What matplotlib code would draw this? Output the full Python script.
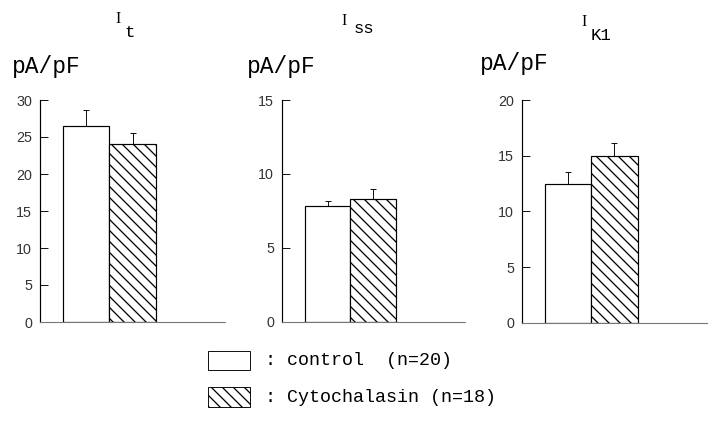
import matplotlib
matplotlib.use('Agg')
import matplotlib.pyplot as plt
from matplotlib.patches import Rectangle

# data (pA/pF, mean and upper error)
currents = ['t', 'ss', 'K1']
control_mean = [26.5, 7.8, 12.5]
control_err = [2.1, 0.4, 1.0]
cyto_mean = [24.0, 8.3, 15.0]
cyto_err = [1.6, 0.65, 1.1]
ymax = [30, 15, 20]
yticks = [[0, 5, 10, 15, 20, 25, 30], [0, 5, 10, 15], [0, 5, 10, 15, 20]]
legend_labels = [': control  (n=20)', ': Cytochalasin (n=18)']

W, H, DPI = 712, 426, 66
plt.rcParams['hatch.linewidth'] = 1.4
mono = 'Liberation Mono'


def fx(x):
    return x / W


def fy(y):
    return 1 - y / H


fig = plt.figure(figsize=(W / DPI, H / DPI), dpi=DPI)

# axes boxes in pixels: left, right, top, bottom
boxes = [(40, 225, 100, 322), (281.7, 465, 100, 321.7), (521.7, 707, 100, 322.7)]
# title / unit label positions in pixels
title_pos = [(115, 23, 124, 37), (341, 25, 354, 33), (581, 26, 591, 40)]
unit_pos = [(12, 73), (247, 73), (480, 70)]

for i in range(3):
    l, r, t, b = boxes[i]
    ax = fig.add_axes([fx(l), fy(b), (r - l) / W, (b - t) / H])
    ax.bar([1], [control_mean[i]], width=1, color='white', edgecolor='black',
           linewidth=1.3, zorder=2)
    ax.bar([2], [cyto_mean[i]], width=1, color='white', edgecolor='black',
           hatch='\\\\', linewidth=1.3, zorder=2)
    ax.errorbar([1, 2], [control_mean[i], cyto_mean[i]],
                yerr=[[0, 0], [control_err[i], cyto_err[i]]],
                fmt='none', ecolor='black', elinewidth=1.0, capsize=3.8,
                capthick=1.0, zorder=3)
    ax.set_xlim(0, 4)
    ax.set_ylim(0, ymax[i])
    ax.set_yticks(yticks[i])
    ax.set_xticks([])
    for s in ['top', 'right']:
        ax.spines[s].set_visible(False)
    ax.spines['left'].set_linewidth(1.3)
    ax.spines['bottom'].set_color('#777777')
    ax.spines['bottom'].set_linewidth(1.2)
    ax.tick_params(axis='y', direction='in', length=8.5, width=1.0, pad=8.5,
                   labelsize=15.5, labelcolor='#333333')
    for lab in ax.get_yticklabels():
        lab.set_family('Liberation Sans')
    ax.patch.set_alpha(0)

    x1, y1, x2, y2 = title_pos[i]
    fig.text(fx(x1), fy(y1), 'I', family='Liberation Serif', fontsize=17,
             va='baseline')
    fig.text(fx(x2), fy(y2), currents[i], family=mono, fontsize=19,
             va='baseline')
    ux, uy = unit_pos[i]
    fig.text(fx(ux), fy(uy), 'pA/pF', family=mono, fontsize=25, va='baseline')

# legend drawn by hand below the panels
leg_rows = [(351, 370, None), (387, 407, '\\\\')]
for (t, b, h), lab in zip(leg_rows, legend_labels):
    fig.patches.append(Rectangle((fx(208), fy(b)), 42 / W, (b - t) / H,
                                 transform=fig.transFigure, facecolor='white',
                                 edgecolor='black', linewidth=1.0, hatch=h))
    fig.text(fx(265), fy((t + b) / 2), lab, family=mono, fontsize=20,
             va='center')

fig.savefig('out.png', dpi=DPI)
